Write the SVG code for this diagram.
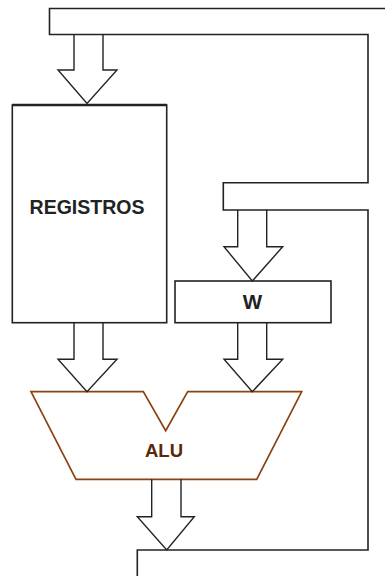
<svg xmlns="http://www.w3.org/2000/svg" width="385" height="576" viewBox="0 0 385 576">
<style>
.ln{fill:none;stroke:#222;stroke-width:1.6;stroke-linejoin:miter}
.box{fill:#fff;stroke:#222;stroke-width:1.6}
.arr{fill:none;stroke:#222;stroke-width:1.4;stroke-linejoin:miter}
.t{font-family:"Liberation Sans",Arial,sans-serif;font-weight:bold;text-anchor:middle;fill:#222}
</style>
<rect width="385" height="576" fill="#fff"/>
<g id="registros">
<rect class="box" x="12.3" y="105" width="154.4" height="217.7"/>
<line x1="12.3" y1="105" x2="166.7" y2="105" stroke="#222" stroke-width="2.4"/>
<text class="t" x="87" y="214" font-size="19.5">REGISTROS</text>
</g>
<g id="w">
<rect class="box" x="175" y="281" width="156" height="41.7"/>
<text class="t" x="252.5" y="309" font-size="20.5">W</text>
</g>
<g id="alu">
<path d="M31,391.7 H143.3 L165.7,430.7 L187.7,391.7 H301.7 L256.7,479.3 H76 Z" fill="#fff" stroke="#8a4312" stroke-width="1.7" stroke-linejoin="miter"/>
<text class="t" x="164" y="456.7" font-size="18.5" style="fill:#5a2808">ALU</text>
</g>
<g id="connectors">
<path class="ln" d="M386,8.5 H49.5 V34.5 H368 V182.7 H223.3 V210 H368 V550 H137.3 V577"/>
<path class="arr" d="M74,34.5 V70 H58 L87,103.5 L117,70 H103 V34.5"/>
<path class="arr" d="M237.7,210 V246.7 H224 L252.3,281 L282.7,246.7 H266.7 V210"/>
<path class="arr" d="M74,323 V359.3 H58 L87,391.7 L117,359.3 H103 V323"/>
<path class="arr" d="M237.7,323 V359.3 H224 L252.3,391.7 L282.7,359.3 H266.7 V323"/>
<path class="arr" d="M151.7,479.3 V516.7 H137.3 L166.7,550 L194.3,516.7 H181 V479.3"/>
</g>
</svg>
